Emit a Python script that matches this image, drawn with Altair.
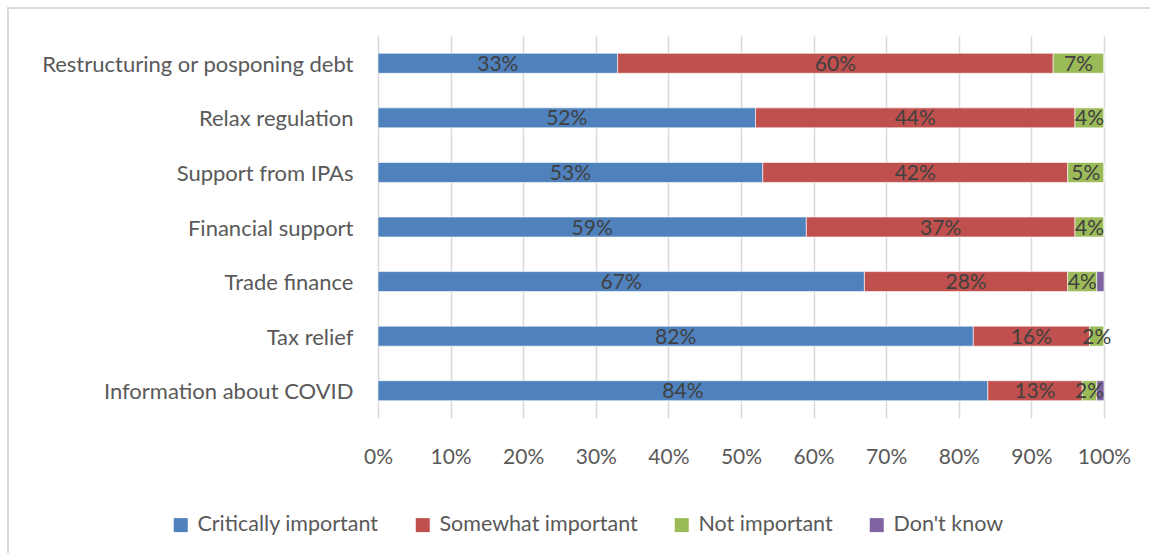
import altair as alt
import pandas as pd

categories = ["Restructuring or posponing debt", "Relax regulation", "Support from IPAs",
              "Financial support", "Trade finance", "Tax relief", "Information about COVID"]
series = ["Critically important", "Somewhat important", "Not important", "Don't know"]
critically = [33, 52, 53, 59, 67, 82, 84]
somewhat = [60, 44, 42, 37, 28, 16, 13]
not_important = [7, 4, 5, 4, 4, 2, 2]
dont_know = [0, 0, 0, 0, 1, 0, 1]
colors = ["#4f81bd", "#c0504d", "#9bbb59", "#8064a2"]
x_ticks = [0, 10, 20, 30, 40, 50, 60, 70, 80, 90, 100]

FONT = "Lato"

rows = []
for i, cat in enumerate(categories):
    vals = [critically[i], somewhat[i], not_important[i], dont_know[i]]
    start = 0
    for j, s in enumerate(series):
        v = vals[j]
        rows.append({"category": cat, "series": s, "order": j, "value": v,
                     "start": start, "end": start + v, "mid": start + v / 2,
                     "label": f"{v}%" if (v > 0 and s != "Don't know") else ""})
        start += v
df = pd.DataFrame(rows)

W, H = 726, 382
L, T = 378, 36

y_enc = alt.Y("category:N", sort=categories, title=None,
              scale=alt.Scale(paddingInner=0.634, paddingOuter=0.317),
              axis=alt.Axis(labelFontSize=22, labelColor="#595959", labelFont=FONT,
                            labelPadding=25, labelLimit=400, labelOffset=1.5,
                            ticks=False, domain=False, grid=False))

bars = alt.Chart(df).mark_bar(stroke="white", strokeWidth=0.6).encode(
    x=alt.X("start:Q", scale=alt.Scale(domain=[0, 100], nice=False), title=None,
            axis=alt.Axis(values=x_ticks, labelExpr="datum.value + '%'", labelFontSize=21,
                          labelColor="#595959", labelFont=FONT, labelPadding=28,
                          labelFlush=False, labelOverlap=False,
                          grid=True, gridColor="#d9d9d9", gridWidth=1.5,
                          ticks=False, domain=False)),
    x2="end:Q",
    y=y_enc,
    color=alt.Color("series:N", sort=series,
                    scale=alt.Scale(domain=series, range=colors),
                    legend=alt.Legend(title=None, orient="none", direction="horizontal",
                                      legendX=170 - L, legendY=514 - T,
                                      symbolType="square", symbolSize=196,
                                      symbolStrokeWidth=0, labelFontSize=21.5,
                                      labelColor="#595959", labelFont=FONT,
                                      labelOffset=6, columnPadding=33,
                                      labelLimit=400)),
)

labels = alt.Chart(df).mark_text(fontSize=21, color="#404040", font=FONT,
                                 baseline="middle", align="center", dy=1.5).encode(
    x=alt.X("mid:Q"),
    y=alt.Y("category:N", sort=categories),
    text="label:N",
)

frame = alt.Chart(pd.DataFrame({"a": [0]})).mark_rect(
    filled=False, stroke="#d9d9d9", strokeWidth=2).encode(
    x=alt.value(8 - L), x2=alt.value(1175 - L),
    y=alt.value(8 - T), y2=alt.value(600 - T),
)

chart = alt.layer(frame, bars, labels).properties(
    width=W, height=H,
    padding={"left": L, "top": T, "right": 1150 - L - W, "bottom": 553 - T - H},
    autosize=alt.AutoSizeParams(type="none"),
    background="white",
).configure_view(stroke=None)

chart.save("out.html", embed_options={"renderer": "svg", "actions": False})
